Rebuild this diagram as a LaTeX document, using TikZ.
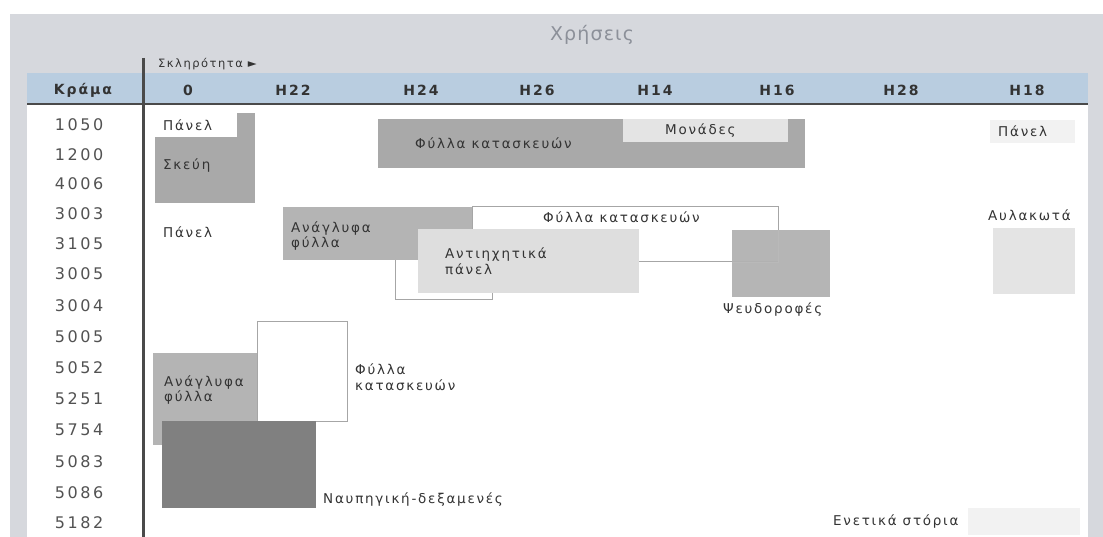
\documentclass[tikz,border=0pt]{standalone}
\usepackage{fontspec}
\setmainfont{DejaVu Sans}
\newfontfamily\labf[LetterSpace=13]{DejaVu Sans}
\newfontfamily\rowf[LetterSpace=16]{DejaVu Sans}
\newfontfamily\hdrf[LetterSpace=14]{DejaVu Sans}
\newfontfamily\titf[LetterSpace=6]{DejaVu Sans}
\definecolor{bgG}{HTML}{D6D8DD}
\definecolor{hdrB}{HTML}{B9CDE0}
\definecolor{lineD}{HTML}{4A4A4A}
\definecolor{gMid}{HTML}{A9A9A9}
\definecolor{gAna}{HTML}{B4B4B4}
\definecolor{gPse}{HTML}{B2B2B2}
\definecolor{gLight}{HTML}{DEDEDE}
\definecolor{gLight2}{HTML}{E4E4E4}
\definecolor{gFaint}{HTML}{F2F2F2}
\definecolor{gDark}{HTML}{808080}
\definecolor{txtD}{HTML}{333333}
\definecolor{txtT}{HTML}{8C9099}
\tikzset{
  lab/.style={font=\labf\fontsize{13.5}{15.5}\selectfont, text=txtD, inner sep=0pt, anchor=west, align=left},
  rowlab/.style={font=\rowf\fontsize{16}{19}\selectfont, text=txtD!85, inner sep=0pt},
  hdr/.style={font=\hdrf\bfseries\fontsize{14}{16}\selectfont, text=txtD, inner sep=0pt},
  outl/.style={draw=gray!70, line width=1pt},
}
\begin{document}
\begin{tikzpicture}[x=1pt,y=-1pt]
\useasboundingbox (0,0) rectangle (1103,537);
% frame
\fill[bgG] (10,14) rectangle (1103,537);
\fill[white] (27,103) rectangle (1088,537);
\fill[hdrB] (27,73) rectangle (1088,103);
\draw[lineD, line width=2.5pt] (27,104) -- (1088,104);
\draw[lineD, line width=3pt] (143,58) -- (143,537);
% title
\node[font=\titf\fontsize{19}{22}\selectfont, text=txtT, inner sep=0pt] (title) at (592,35) {Χρήσεις};
\node[font=\labf\fontsize{11.5}{14}\selectfont, text=txtD, inner sep=0pt, anchor=west] (skl) at (158,64) {Σκληρότητα ►};
% header
\node[hdr] (hK) at (83,90) {Κράμα};
\node[hdr] (h0) at (188,90) {0};
\node[hdr] (h22) at (293,90) {H22};
\node[hdr] (h24) at (421,90) {H24};
\node[hdr] (h26) at (537,90) {H26};
\node[hdr] (h14) at (655,90) {H14};
\node[hdr] (h16) at (777,90) {H16};
\node[hdr] (h28) at (901,90) {H28};
\node[hdr] (h18) at (1027,90) {H18};
% row labels
\foreach \t/\y [count=\i] in {1050/125,1200/155,4006/184,3003/214,3105/244,3005/274,3004/306,5005/337,5052/368,5251/399,5754/430,5083/462,5086/493,5182/523}
  \node[rowlab] (r\i) at (79,\y) {\t};
% top-left block
\fill[gMid] (155,113) rectangle (255,203);
\fill[white] (155,113) rectangle (237,137);
\node[lab] (p1) at (163,125) {Πάνελ};
\node[lab] (sk) at (163,166) {Σκεύη};
% top big block
\fill[gMid] (378,119) rectangle (805,168);
\fill[gLight2] (623,119) rectangle (788,142);
\node[lab] (fk1) at (415,143) {Φύλλα κατασκευών};
\node[lab] (mon) at (665,131) {Μονάδες};
% right top
\fill[gFaint] (990,120) rectangle (1075,143);
\node[lab] (p3) at (998,131) {Πάνελ};
% middle
\node[lab] (p2) at (163,232) {Πάνελ};
\fill[white] (395,240) rectangle (492,300);
\draw[outl] (395,240) rectangle (492,300);
\fill[gAna] (283,207) rectangle (472,260);
\node[lab] (an1) at (291,236) {Ανάγλυφα\\φύλλα};
\draw[outl] (472,207) rectangle (778,262);
\node[lab] (fk2) at (543,217) {Φύλλα κατασκευών};
\fill[gLight] (418,229) rectangle (639,293);
\node[lab] (ant) at (445,261) {Αντιηχητικά\\πάνελ};
\fill[gPse, opacity=0.95] (732,230) rectangle (830,297);
\draw[gray!55, line width=0.8pt] (732,262) -- (778,262) -- (778,230);
\node[lab] (pse) at (723,310) {Ψευδοροφές};
\node[lab] (avl) at (988,215) {Αυλακωτά};
\fill[gLight2] (993,228) rectangle (1075,294);
% bottom
\fill[gAna] (153,353) rectangle (258,445);
\fill[white] (257,322) rectangle (347,421);
\draw[outl] (257,322) rectangle (347,421);
\node[lab] (an2) at (164,390) {Ανάγλυφα\\φύλλα};
\fill[gDark] (162,421) rectangle (316,508);
\node[lab] (fk3) at (355,377) {Φύλλα\\κατασκευών};
\node[lab] (nav) at (323,500) {Ναυπηγική-δεξαμενές};
\fill[gFaint] (968,508) rectangle (1080,535);
\node[lab] (ene) at (833,522) {Ενετικά στόρια};
\end{tikzpicture}
\end{document}
